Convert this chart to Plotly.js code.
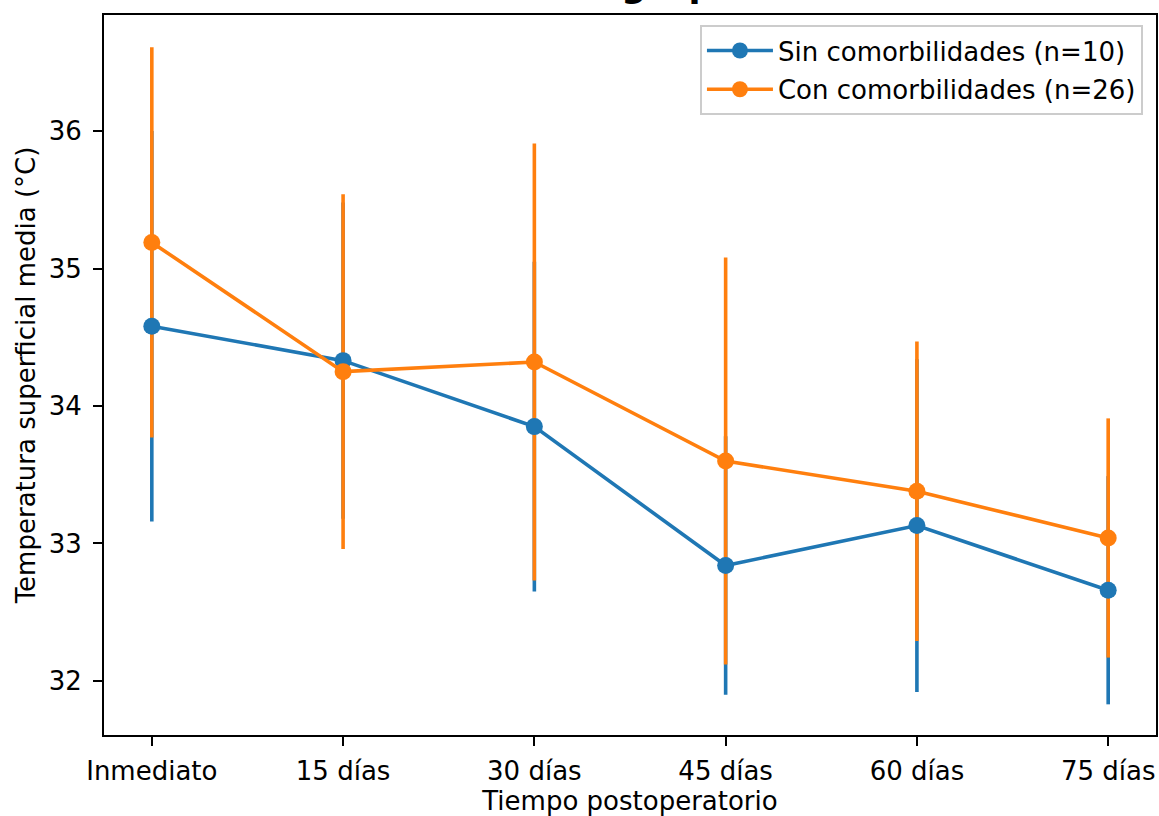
<!DOCTYPE html>
<html>
<head>
<meta charset="utf-8">
<script src="https://cdn.plot.ly/plotly-3.0.1.min.js"></script>
<style>html,body{margin:0;padding:0;background:#fff;}#chart{width:1159px;height:816px;}</style>
</head>
<body>
<div id="chart"></div>
<script>
// Data
const categories = ["Inmediato", "15 días", "30 días", "45 días", "60 días", "75 días"];
const sinName = "Sin comorbilidades (n=10)";
const sinMean = [34.58, 34.33, 33.85, 32.84, 33.13, 32.66];
const sinErr  = [1.42, 1.15, 1.20, 0.94, 1.21, 0.83];
const conName = "Con comorbilidades (n=26)";
const conMean = [35.19, 34.25, 34.32, 33.60, 33.38, 33.04];
const conErr  = [1.42, 1.29, 1.59, 1.48, 1.09, 0.87];
const yTicks = [32, 33, 34, 35, 36];
const titleText = "Temperatura superficial media postoperatoria<br>entre grupos";
const xTitle = "Tiempo postoperatorio";
const yTitle = "Temperatura superficial media (°C)";

const BLUE = "#1f77b4", ORANGE = "#ff7f0e";
const FONT = "DejaVu Sans";
const FS = 26;

function barTrace(mean, err, color) {
  return {
    x: categories, y: mean, type: "scatter", mode: "markers",
    marker: {size: 1, color: "rgba(0,0,0,0)"},
    error_y: {type: "data", array: err, visible: true, color: color, thickness: 3.6, width: 0},
    showlegend: false, hoverinfo: "skip"
  };
}
function lineTrace(mean, color, name, group) {
  return {
    x: categories, y: mean, type: "scatter", mode: "lines+markers", name: name,
    legendgroup: group,
    line: {color: color, width: 3.6},
    marker: {color: color, size: 17}
  };
}

const data = [
  barTrace(sinMean, sinErr, BLUE),
  barTrace(conMean, conErr, ORANGE),
  lineTrace(sinMean, BLUE, sinName, "a"),
  lineTrace(conMean, ORANGE, conName, "b")
];

const axisCommon = {
  showline: true, mirror: true, linecolor: "#000", linewidth: 2,
  ticks: "outside", ticklen: 9, tickwidth: 2, tickcolor: "#000",
  showgrid: false, zeroline: false,
  tickfont: {family: FONT, size: FS, color: "#000"}
};

const layout = {
  width: 1159, height: 816,
  margin: {l: 104, r: 3, t: 15, b: 81, pad: 0},
  paper_bgcolor: "#fff", plot_bgcolor: "#fff",
  font: {family: FONT, color: "#000"},
  xaxis: Object.assign({}, axisCommon, {
    type: "category", range: [-0.25, 5.25],
    ticklabelstandoff: 3,
    title: {text: xTitle, font: {family: FONT, size: FS, color: "#000"}, standoff: 5}
  }),
  yaxis: Object.assign({}, axisCommon, {
    range: [31.607, 36.844], tickvals: yTicks, ticktext: yTicks.map(String),
    ticklabelstandoff: 6,
    title: {text: yTitle, font: {family: FONT, size: FS, color: "#000"}, standoff: 6}
  }),
  legend: {
    x: 0.9876, xanchor: "right", y: 0.986, yanchor: "top",
    bgcolor: "rgba(255,255,255,0.8)", bordercolor: "#cccccc", borderwidth: 2,
    font: {family: FONT, size: FS, color: "#000"},
    itemwidth: 66, traceorder: "grouped", tracegroupgap: 2
  },
  annotations: [{
    text: "<b>" + titleText + "</b>", xref: "paper", yref: "paper", x: 0.5, y: 1,
    xanchor: "center", yanchor: "bottom", yshift: 8, showarrow: false,
    font: {family: FONT, size: 35, color: "#000"}
  }],
  showlegend: true
};

Plotly.newPlot("chart", data, layout, {staticPlot: true});
</script>
</body>
</html>
